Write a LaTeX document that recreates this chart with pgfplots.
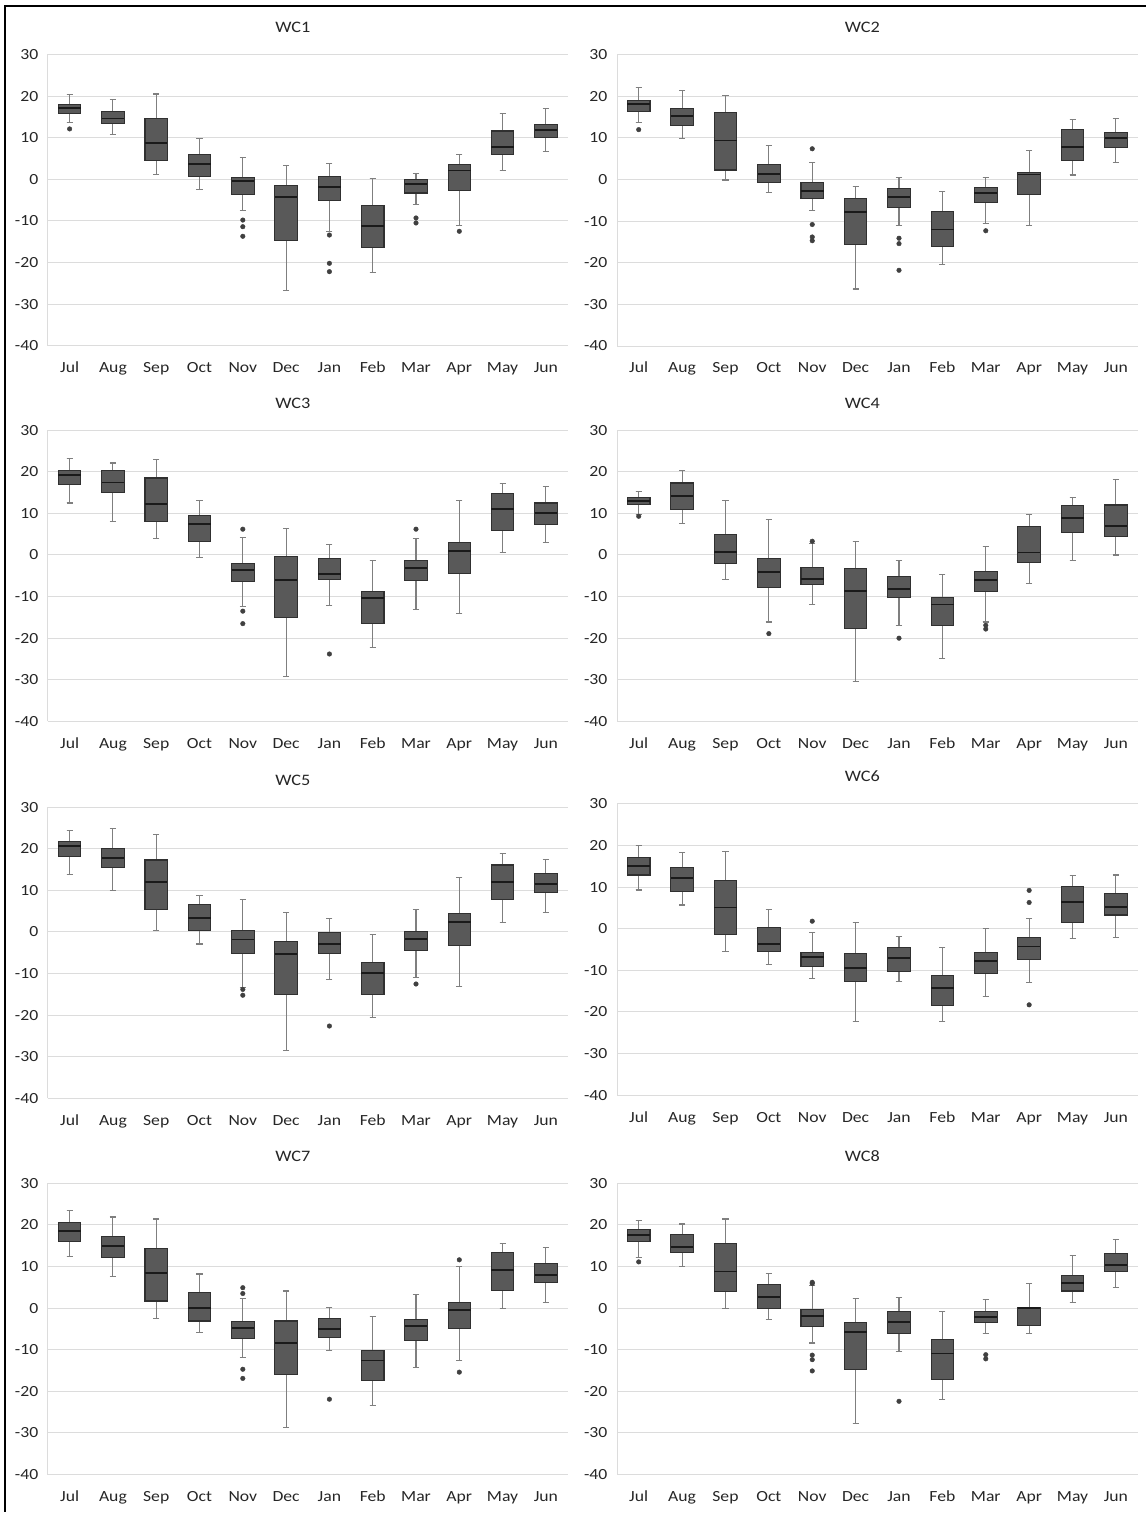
\documentclass[border=0pt]{standalone}
\usepackage{pgfplots}
\pgfplotsset{compat=1.18}
\usepackage{pgfplotstable}
\usepgfplotslibrary{statistics}
\usepackage{graphicx}
\usepackage{fontspec}
\setmainfont{Carlito}

\definecolor{boxfill}{HTML}{595959}
\definecolor{boxline}{HTML}{303030}
\definecolor{medline}{HTML}{1A1A1A}
\definecolor{whisk}{HTML}{7F7F7F}
\definecolor{outl}{HTML}{404040}
\definecolor{gridc}{HTML}{DCDCDC}
\definecolor{txt}{HTML}{262626}

\newcommand\tfont{\fontsize{15.5}{18}\selectfont}
\newcommand\ttfont{\fontsize{16}{19}\selectfont}
\newcommand\hs[1]{\scalebox{1.14}[1]{#1}}

% monthly statistics: lower whisker, Q1, median, Q3, upper whisker (Jul..Jun)
\pgfplotstableread{
lw lq med uq uw
13.6 15.8 17.1 17.9 20.3
10.7 13.5 14.6 16.2 19.1
1.1 4.6 8.7 14.6 20.5
-2.5 0.6 3.6 6.0 9.7
-7.4 -3.6 -0.5 0.4 5.2
-26.8 -14.8 -4.3 -1.6 3.4
-12.5 -5.0 -1.9 0.6 3.8
-22.5 -16.4 -11.3 -6.2 0.2
-6.0 -3.3 -1.2 0.0 1.3
-11.1 -2.6 2.1 3.5 5.9
2.2 5.9 7.7 11.6 15.8
6.6 10.1 11.8 13.1 17.0
}\wcA
\pgfplotstableread{
x y
0 12.1
4 -9.8
4 -11.4
4 -13.7
6 -13.4
6 -20.2
6 -22.2
8 -9.3
8 -10.5
9 -12.5
}\oA

\pgfplotstableread{
lw lq med uq uw
13.8 16.4 18.2 19.1 22.2
9.8 13.1 15.2 17.0 21.4
-0.1 2.3 9.4 16.1 20.1
-3.2 -0.8 1.4 3.6 8.1
-7.4 -4.6 -2.7 -0.7 4.0
-26.3 -15.7 -7.8 -4.5 -1.6
-11.1 -6.7 -4.1 -2.1 0.5
-20.4 -16.0 -12.0 -7.6 -2.9
-10.6 -5.5 -3.3 -2.0 0.5
-11.1 -3.6 1.2 1.7 7.0
1.1 4.5 7.8 12.1 14.5
4.0 7.8 9.9 11.4 14.7
}\wcB
\pgfplotstableread{
x y
0 12.0
4 7.4
4 -10.8
4 -13.8
4 -14.7
6 -14.1
6 -15.4
6 -21.8
8 -12.3
}\oB

\pgfplotstableread{
lw lq med uq uw
12.5 17.0 19.2 20.4 23.2
8.1 15.0 17.4 20.2 22.1
4.0 8.1 12.3 18.5 22.9
-0.5 3.3 7.5 9.4 13.1
-12.4 -6.4 -3.7 -2.0 4.1
-29.1 -15.0 -6.0 -0.3 6.4
-12.1 -5.8 -4.6 -0.9 2.5
-22.3 -16.4 -10.4 -8.8 -1.4
-13.0 -6.1 -3.1 -1.3 3.9
-14.1 -4.5 0.9 3.1 13.1
0.5 5.8 11.1 14.8 17.2
3.0 7.4 10.0 12.5 16.5
}\wcC
\pgfplotstableread{
x y
4 6.2
4 -13.5
4 -16.5
6 -23.8
8 6.2
}\oC

\pgfplotstableread{
lw lq med uq uw
9.8 12.2 12.9 13.9 15.2
7.6 10.9 14.1 17.3 20.3
-5.8 -2.0 0.7 4.9 13.1
-16.1 -7.8 -4.1 -0.9 8.5
-12.0 -7.0 -5.7 -3.0 2.8
-30.3 -17.6 -8.7 -3.2 3.3
-16.9 -10.3 -8.2 -5.1 -1.4
-24.9 -17.0 -11.9 -10.2 -4.6
-16.1 -8.8 -6.0 -4.0 2.0
-6.8 -1.9 0.6 6.8 9.7
-1.4 5.3 8.8 11.8 13.9
0.0 4.5 6.9 12.0 18.2
}\wcD
\pgfplotstableread{
x y
0 9.3
3 -18.9
4 3.3
6 -20.0
8 -16.9
8 -17.8
}\oD

\pgfplotstableread{
lw lq med uq uw
13.9 18.1 20.6 21.8 24.3
10.0 15.5 17.7 20.0 24.8
0.4 5.5 12.0 17.3 23.5
-2.9 0.3 3.3 6.6 8.8
-13.3 -5.2 -1.8 0.3 7.7
-28.4 -15.0 -5.2 -2.3 4.7
-11.5 -5.2 -2.8 -0.2 3.2
-20.5 -15.1 -9.9 -7.3 -0.7
-10.9 -4.4 -1.6 0.2 5.5
-13.0 -3.2 2.4 4.4 13.2
2.3 7.7 12.0 16.1 18.9
4.7 9.4 11.5 14.0 17.5
}\wcE
\pgfplotstableread{
x y
4 -13.8
4 -15.2
6 -22.6
8 -12.5
}\oE

\pgfplotstableread{
lw lq med uq uw
9.3 12.9 15.0 17.0 19.9
5.7 9.0 12.1 14.7 18.3
-5.4 -1.3 5.1 11.5 18.6
-8.6 -5.4 -3.7 0.2 4.7
-11.9 -9.0 -6.8 -5.7 -1.0
-22.3 -12.7 -9.4 -5.9 1.5
-12.6 -10.2 -7.1 -4.6 -1.8
-22.4 -18.4 -14.3 -11.2 -4.6
-16.4 -10.7 -7.7 -5.8 0.1
-12.9 -7.3 -4.3 -2.1 2.5
-2.4 1.5 6.5 10.2 12.8
-2.2 3.3 5.3 8.4 12.9
}\wcF
\pgfplotstableread{
x y
4 1.8
9 9.2
9 6.3
9 -18.3
}\oF

\pgfplotstableread{
lw lq med uq uw
12.3 15.9 18.6 20.6 23.4
7.5 12.1 15.0 17.1 21.9
-2.6 1.7 8.4 14.3 21.4
-5.8 -3.1 0.0 3.8 8.2
-11.9 -7.3 -4.7 -3.2 2.3
-28.8 -15.9 -8.3 -3.1 4.1
-10.1 -7.0 -5.1 -2.6 0.1
-23.5 -17.5 -12.6 -10.1 -2.0
-14.3 -7.7 -4.3 -2.8 3.3
-12.5 -4.9 -0.5 1.3 9.9
0.0 4.3 9.1 13.3 15.6
1.3 6.1 8.0 10.7 14.6
}\wcG
\pgfplotstableread{
x y
4 4.9
4 3.5
4 -14.7
4 -16.9
6 -21.9
9 11.6
9 -15.4
}\oG

\pgfplotstableread{
lw lq med uq uw
12.1 15.9 17.5 18.8 21.1
9.9 13.4 14.7 17.6 20.2
-0.1 4.0 8.8 15.6 21.4
-2.7 0.0 2.7 5.7 8.4
-8.4 -4.4 -1.9 -0.3 5.5
-27.8 -14.8 -5.7 -3.4 2.2
-10.5 -6.0 -3.3 -0.8 2.5
-21.9 -17.2 -10.9 -7.6 -0.9
-6.2 -3.4 -2.1 -0.9 2.0
-6.0 -4.1 0.0 0.1 6.0
1.4 4.1 6.0 7.8 12.7
5.0 8.8 10.4 13.1 16.4
}\wcH
\pgfplotstableread{
x y
0 11.1
4 6.2
4 5.9
4 -11.3
4 -12.4
4 -15.1
6 -22.4
8 -11.2
8 -12.2
}\oH

\pgfplotsset{
  wc/.style={
    scale only axis, height=291.5pt, anchor=south west,
    xmin=-0.5, xmax=11.5, ymin=-40, ymax=30,
    xtick={0,...,11},
    xticklabels={\hs{Jul},\hs{Aug},\hs{Sep},\hs{Oct},\hs{Nov},\hs{Dec},\hs{Jan},\hs{Feb},\hs{Mar},\hs{Apr},\hs{May},\hs{Jun}},
    ytick={-40,-30,-20,-10,0,10,20,30},
    yticklabels={\hs{-40},\hs{-30},\hs{-20},\hs{-10},\hs{0},\hs{10},\hs{20},\hs{30}},
    ymajorgrids, major grid style={gridc, line width=1pt},
    axis line style={draw=none}, tick style={draw=none},
    xticklabel style={anchor=base, yshift=-27pt, inner sep=0pt, font=\tfont, text=txt},
    yticklabel style={anchor=east, inner sep=0pt, xshift=-9.5pt, font=\tfont, text=txt},
    title style={at={(0.5,1)}, anchor=base, yshift=16pt, xshift=-15pt, font=\ttfont, text=txt},
    clip=false,
  },
  bx/.style={
    draw=boxline, fill=boxfill, line width=1.1pt,
    boxplot/draw direction=y,
    boxplot/box extend=0.52,
    boxplot/whisker extend=0.14,
    boxplot/every box/.style={draw=boxline, fill=boxfill, line width=1.1pt},
    boxplot/every whisker/.style={draw=whisk, line width=1.1pt},
    boxplot/every median/.style={draw=medline, line width=1.8pt},
  },
}

% fetch one row of a statistics table and draw its box
\newcommand\onebox[2]{%
  \pgfplotstablegetelem{#1}{lw}\of#2\edef\vlw{\pgfplotsretval}%
  \pgfplotstablegetelem{#1}{lq}\of#2\edef\vlq{\pgfplotsretval}%
  \pgfplotstablegetelem{#1}{med}\of#2\edef\vmed{\pgfplotsretval}%
  \pgfplotstablegetelem{#1}{uq}\of#2\edef\vuq{\pgfplotsretval}%
  \pgfplotstablegetelem{#1}{uw}\of#2\edef\vuw{\pgfplotsretval}%
  \edef\tmp{\noexpand\addplot[bx, boxplot prepared={draw position=#1,
    lower whisker=\vlw, lower quartile=\vlq, median=\vmed,
    upper quartile=\vuq, upper whisker=\vuw}] coordinates {};}%
  \tmp}

% one panel: stats table, outlier table, title, x, y, width
\newcommand\panel[6]{%
\begin{axis}[wc, at={(#4pt,#5pt)}, width=#6pt, title={\hs{#3}}]
  \draw[gridc, line width=1pt] (rel axis cs:0,0) -- (rel axis cs:0,1);
  \pgfplotsinvokeforeach{0,...,11}{\onebox{##1}{#1}}
  \addplot[only marks, mark=*, mark size=2.3pt, color=outl] table[x=x, y=y] {#2};
\end{axis}}

\begin{document}
\begin{tikzpicture}[x=1pt, y=1pt]
  \path (0,0) rectangle (1147,1513);
  \draw[line width=2.4pt] (5.3,0) -- (5.3,1506.8) -- (1147,1506.8);
  \panel{\wcA}{\oA}{WC1}{48}{1167}{520}
  \panel{\wcB}{\oB}{WC2}{617.5}{1166.7}{521}
  \panel{\wcC}{\oC}{WC3}{48}{791}{520}
  \panel{\wcD}{\oD}{WC4}{617.5}{791}{521}
  \panel{\wcE}{\oE}{WC5}{48}{413.7}{520}
  \panel{\wcF}{\oF}{WC6}{617.5}{417}{521}
  \panel{\wcG}{\oG}{WC7}{48}{37.3}{520}
  \panel{\wcH}{\oH}{WC8}{617.5}{37.3}{521}
\end{tikzpicture}
\end{document}
